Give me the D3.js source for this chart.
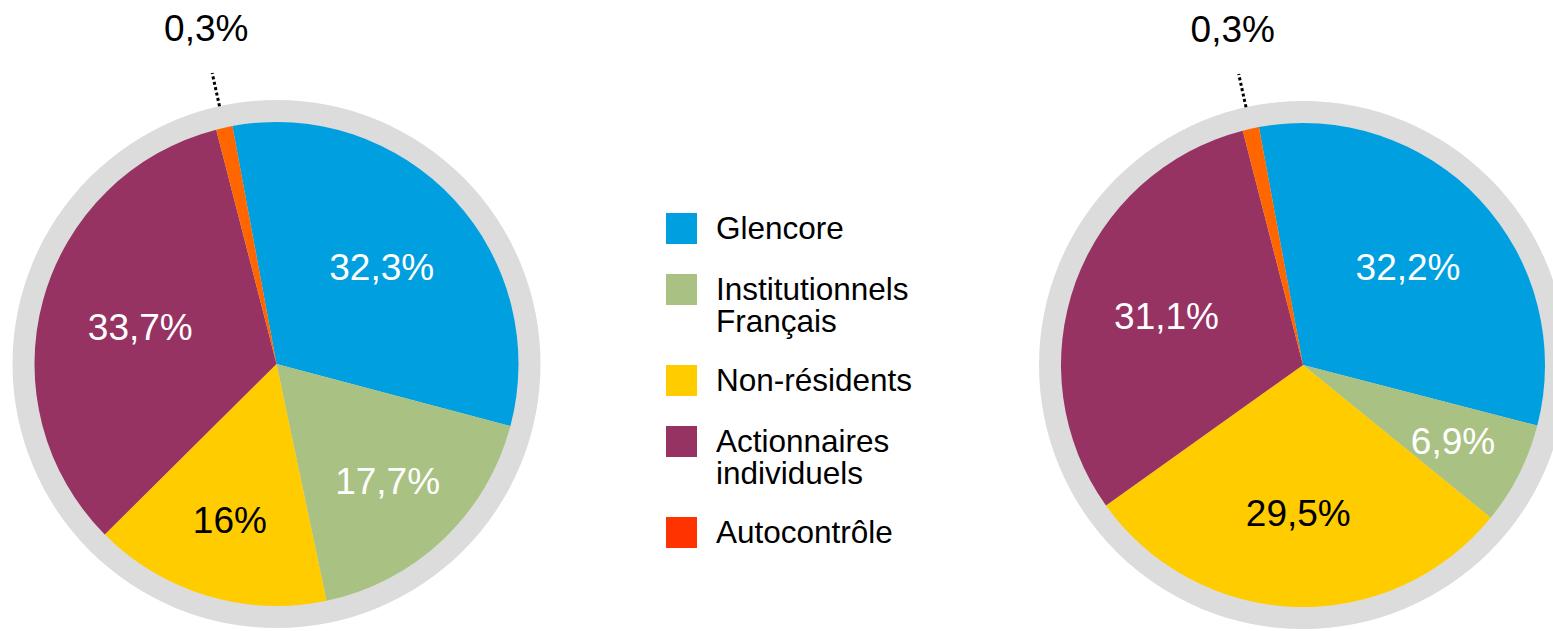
<!DOCTYPE html>
<html>
<head>
<meta charset="utf-8">
<script src="https://cdn.jsdelivr.net/npm/d3@7"></script>
<style>
  body { margin: 0; background: #fff; }
  svg { display: block; font-family: "Liberation Sans", Arial, sans-serif; }
</style>
</head>
<body>
<script>
'use strict'

// categories, in drawing order (clockwise from the top)
const categories = ['Glencore', 'Institutionnels Français', 'Non-résidents', 'Actionnaires individuels', 'Autocontrôle']
const colors = ['#009FDF', '#A9C283', '#FFCC00', '#963363', '#FF6600']
const legendColors = ['#009FDF', '#A9C283', '#FFCC00', '#963363', '#FF3300']
const labelColors = ['#fff', '#fff', '#000', '#fff', '#000']

// share of capital (%), left and right chart
const valuesLeft = [32.3, 17.7, 16, 33.7, 0.3]
const valuesRight = [32.2, 6.9, 29.5, 31.1, 0.3]

const width = 1553, height = 631
const pieR = 242, ringR = 264
const minShare = 1.1 // tiny slices get a visible minimum width
const start = -10.5 * Math.PI / 180

const svg = d3.select('body').append('svg')
  .attr('width', width)
  .attr('height', height)

const fmt = v => String(v).replace('.', ',') + '%'

const pie = d3.pie()
  .sort(null)
  .value(d => Math.max(d, minShare))
  .startAngle(start)
  .endAngle(start + 2 * Math.PI)

const arc = d3.arc().innerRadius(0).outerRadius(pieR)

function drawPie(values, cx, cy) {
  const g = svg.append('g').attr('transform', 'translate(' + [cx, cy] + ')')

  g.append('circle').attr('r', ringR).attr('fill', '#DCDCDC')

  const arcs = pie(values)

  g.selectAll('path.slice')
    .data(arcs)
    .enter()
    .append('path')
    .attr('class', 'slice')
    .attr('d', arc)
    .attr('fill', (d, i) => colors[i])

  // labels at the sector's centroid
  const inside = arcs.filter(d => d.data >= 5)
  g.selectAll('text.lbl')
    .data(inside)
    .enter()
    .append('text')
    .attr('class', 'lbl')
    .attr('transform', d => {
      const half = (d.endAngle - d.startAngle) / 2
      const mid = (d.startAngle + d.endAngle) / 2
      const r = 2 * pieR * Math.sin(half) / (3 * half) + 8
      return 'translate(' + [r * Math.sin(mid), -r * Math.cos(mid)] + ')'
    })
    .attr('text-anchor', 'middle')
    .attr('dy', '0.36em')
    .attr('font-size', 37)
    .attr('fill', d => labelColors[d.index])
    .text(d => fmt(d.data))

  // small slices: dotted leader + outside label
  arcs.filter(d => d.data < 5).forEach(d => {
    const mid = (d.startAngle + d.endAngle) / 2
    const p = r => [r * Math.sin(mid), -r * Math.cos(mid)]
    g.append('line')
      .attr('x1', p(ringR)[0]).attr('y1', p(ringR)[1])
      .attr('x2', p(ringR + 34)[0]).attr('y2', p(ringR + 34)[1])
      .attr('stroke', '#000')
      .attr('stroke-width', 3)
      .attr('stroke-dasharray', '3,2.5')
    g.append('text')
      .attr('x', p(ringR + 80)[0] + 4)
      .attr('y', p(ringR + 80)[1])
      .attr('text-anchor', 'middle')
      .attr('dy', '0.36em')
      .attr('font-size', 37)
      .attr('fill', '#000')
      .text(fmt(d.data))
  })
}

drawPie(valuesLeft, 276.5, 364)
drawPie(valuesRight, 1303, 365)

// legend
const legend = svg.append('g').attr('transform', 'translate(666,213)')
let y = 0
categories.forEach((c, i) => {
  const lines = c.split(' ')
  const row = legend.append('g').attr('transform', 'translate(0,' + y + ')')
  row.append('rect')
    .attr('width', 31).attr('height', 31)
    .attr('fill', legendColors[i])
  lines.forEach((l, j) => {
    row.append('text')
      .attr('x', 50)
      .attr('y', 26 + j * 32)
      .attr('font-size', 31.5)
      .attr('fill', '#000')
      .text(l)
  })
  y += 61 + (lines.length - 1) * 30
})
</script>
</body>
</html>
